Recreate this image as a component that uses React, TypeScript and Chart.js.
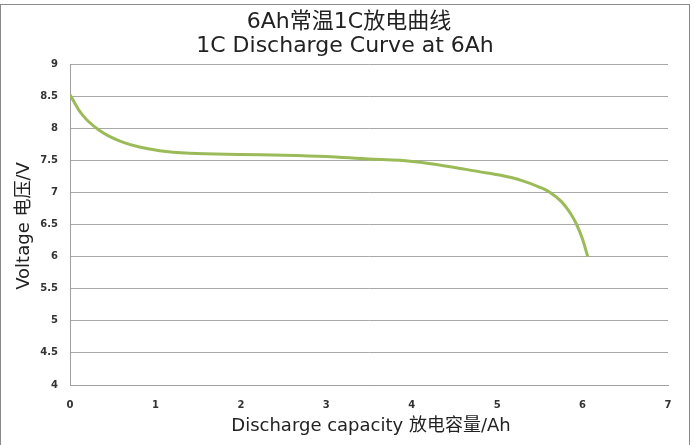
import React, { useEffect, useRef } from "react";
import { Chart, registerables } from "chart.js";

Chart.register(...registerables);

const titleLines = ["6Ah常温1C放电曲线", "1C Discharge Curve at 6Ah"];
const xAxisTitle = "Discharge capacity 放电容量/Ah";
const yAxisTitle = "Voltage 电压/V";

const capacity = [0, 0.03, 0.06, 0.1, 0.15, 0.22, 0.33, 0.45, 0.6, 0.8, 1.05, 1.4, 2.0, 2.5, 3.0, 3.5, 3.86, 4.2, 4.45, 4.8, 5.03, 5.3, 5.5, 5.62, 5.75, 5.85, 5.93, 6.0, 6.06];
const voltage = [8.52, 8.45, 8.38, 8.29, 8.2, 8.1, 7.98, 7.88, 7.79, 7.71, 7.65, 7.61, 7.59, 7.58, 7.56, 7.52, 7.5, 7.45, 7.4, 7.32, 7.27, 7.18, 7.08, 7.0, 6.86, 6.69, 6.5, 6.27, 6.0];

const xMin = 0, xMax = 7, xStep = 1;
const yMin = 4, yMax = 9, yStep = 0.5;

const FONT = '"DejaVu Sans", "Noto Sans CJK SC", sans-serif';

export default function App() {
  const ref = useRef<HTMLCanvasElement>(null);
  useEffect(() => {
    if (!ref.current) return;
    const decor = {
      id: "decor",
      afterDraw(chart: any) {
        const ctx = chart.ctx;
        ctx.save();
        ctx.strokeStyle = "#8a8a8a";
        ctx.lineWidth = 1;
        ctx.strokeRect(0.5, 4.5, 689, 460);
        ctx.fillStyle = "#222";
        ctx.textAlign = "center";
        ctx.textBaseline = "middle";
        ctx.font = `22px ${FONT}`;
        ctx.fillText(titleLines[0], 349, 22);
        ctx.fillText(titleLines[1], 345, 46);
        ctx.font = `18px ${FONT}`;
        ctx.fillText(xAxisTitle, 371, 426);
        ctx.translate(24, 226);
        ctx.rotate(-Math.PI / 2);
        ctx.fillText(yAxisTitle, 0, 0);
        ctx.restore();
      },
    };
    const chart = new Chart(ref.current, {
      type: "line",
      data: {
        datasets: [
          {
            data: capacity.map((x, i) => ({ x, y: voltage[i] })),
            borderColor: "#9bbb59",
            borderWidth: 3,
            pointRadius: 0,
            cubicInterpolationMode: "monotone",
            fill: false,
          },
        ],
      },
      options: {
        animation: false,
        responsive: false,
        layout: { padding: { top: 64, right: 27, left: 0, bottom: 0 } },
        plugins: { legend: { display: false }, tooltip: { enabled: false }, title: { display: false } },
        scales: {
          x: {
            type: "linear",
            min: xMin,
            max: xMax,
            ticks: { stepSize: xStep, color: "#333", font: { family: FONT, size: 10, weight: "bold" }, padding: 14 },
            grid: { display: false, drawTicks: false },
            border: { display: true, color: "#a0a0a0", width: 1 },
            afterFit(s: any) { s.height = 60; },
          },
          y: {
            type: "linear",
            min: yMin,
            max: yMax,
            ticks: {
              stepSize: yStep,
              color: "#333",
              font: { family: FONT, size: 10, weight: "bold" },
              padding: 12,
              callback: (v: any) => String(Number(v)),
            },
            grid: { color: "#a8a8a8", lineWidth: 1, drawTicks: false },
            border: { display: true, color: "#a0a0a0", width: 1 },
            afterFit(s: any) { s.width = 70; },
          },
        },
      },
      plugins: [decor],
    } as any);
    return () => chart.destroy();
  }, []);
  return (
    <div style={{ position: "absolute", left: 0, top: 0, width: 695, height: 445, background: "#fff" }}>
      <canvas ref={ref} width={695} height={445} style={{ display: "block" }} />
    </div>
  );
}
